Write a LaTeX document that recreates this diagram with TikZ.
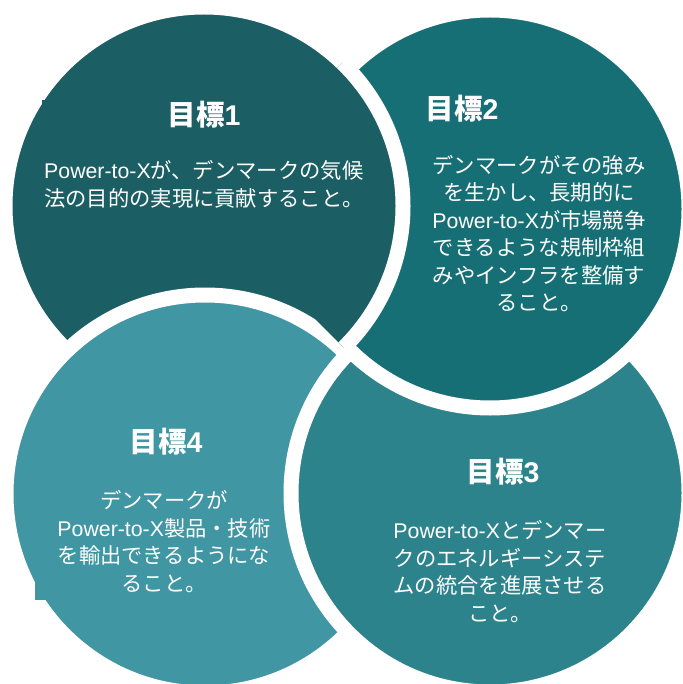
\documentclass[tikz,border=0pt]{standalone}
\usepackage{fontspec}
\setmainfont{Liberation Sans}
\newfontfamily\jp{Noto Sans CJK JP}
\newfontfamily\lat{Liberation Sans}
\definecolor{cA}{RGB}{27,94,99}
\definecolor{cB}{RGB}{23,111,118}
\definecolor{cC}{RGB}{45,131,140}
\definecolor{cD}{RGB}{64,150,162}
\tikzset{
  disc/.style={line width=15pt, draw=white},
  ttl/.style={text=white, font=\jp\bfseries\fontsize{28.5}{34}\selectfont, inner sep=0pt},
  body/.style={text=white, font=\jp\fontsize{21.3}{27.5}\selectfont, inner sep=0pt, align=center},
}
\begin{document}
\begin{tikzpicture}[x=1pt,y=-1pt]
\useasboundingbox (0,0) rectangle (682,684);
\fill[white] (0,0) rectangle (682,684);
\coordinate (o1) at (204,206);
\coordinate (o2) at (490,209);
\coordinate (o3) at (490,493);
\coordinate (o4) at (205,494);
\filldraw[disc, fill=cA] (o1) circle[radius=199pt];
\fill[cA] (42,100) rectangle (200,240);
\filldraw[disc, fill=cD] (o4) circle[radius=199pt];
\fill[cD] (35,420) rectangle (200,600);
\filldraw[disc, fill=cC] (o3) circle[radius=199pt];
\filldraw[disc, fill=cB] (o2) circle[radius=199pt];
\begin{scope}
  \clip (-100,-96) -- (800,804) -- (800,-100) -- cycle;
  \clip (o2) circle[radius=208pt];
  \filldraw[disc, fill=cA] (o1) circle[radius=199pt];
\end{scope}
\node[ttl] (t1) at (204,115) {目標{\lat 1}};
\node[body, align=left, anchor=west] (b1) at (44,184.5) {{\lat Power-to-X}が、デンマークの気候\\法の目的の実現に貢献すること。};
\node[ttl] (t2) at (462,109) {目標{\lat 2}};
\node[body] (b2) at (539,233.5) {デンマークがその強み\\を生かし、長期的に\\{\lat Power-to-X}が市場競争\\できるような規制枠組\\みやインフラを整備す\\ること。};
\node[ttl] (t3) at (503,472) {目標{\lat 3}};
\node[body] (b3) at (500,571.5) {{\lat Power-to-X}とデンマー\\クのエネルギーシステ\\ムの統合を進展させる\\こと。};
\node[ttl] (t4) at (166,442) {目標{\lat 4}};
\node[body] (b4) at (164,541.5) {デンマークが\\{\lat Power-to-X}製品・技術\\を輸出できるようにな\\ること。};
\end{tikzpicture}
\end{document}
